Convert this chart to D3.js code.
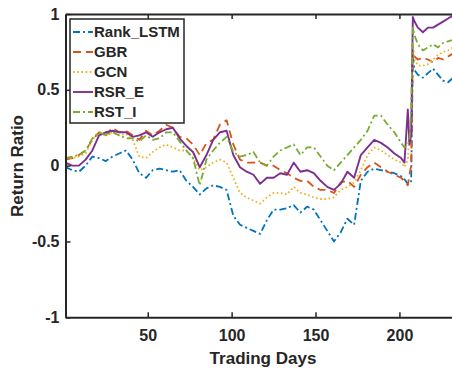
<!DOCTYPE html>
<html>
<head>
<meta charset="utf-8">
<script src="https://cdn.jsdelivr.net/npm/d3@7"></script>
<style>
  html, body { margin: 0; padding: 0; background: #fff; }
  svg { display: block; }
  text { font-family: "Liberation Sans", Arial, sans-serif; font-weight: bold; fill: #262626; }
</style>
</head>
<body>
<svg id="chart" width="452" height="368"></svg>
<script>
// ---------------- data ----------------
const days = [1,5,9,13,17,21,25,29,33,37,41,45,49,53,57,61,65,69,73,77,81,85,89,93,97,
  101,105,109,113,117,121,125,129,133,137,141,145,149,153,157,161,165,169,173,177,181,185,189,193,197,201,
  203,205,206,207,208,209,211,214,217,220,223,226,229,232,235];

const rankLSTM = [-0.01,-0.03,-0.04,0.00,0.06,0.05,0.03,0.06,0.08,0.10,0.04,-0.05,-0.08,-0.03,-0.02,-0.03,-0.04,-0.03,-0.10,-0.14,-0.19,-0.15,-0.13,-0.14,-0.16,
  -0.33,-0.39,-0.41,-0.43,-0.45,-0.36,-0.29,-0.29,-0.28,-0.26,-0.31,-0.27,-0.29,-0.36,-0.43,-0.50,-0.44,-0.35,-0.39,-0.10,-0.04,-0.02,-0.03,-0.04,-0.05,-0.07,
  -0.09,-0.12,-0.12,-0.10,0.72,0.63,0.60,0.58,0.61,0.64,0.60,0.56,0.55,0.58,0.58];

const gbr = [0.04,0.05,0.07,0.10,0.17,0.22,0.20,0.25,0.22,0.23,0.20,0.17,0.23,0.20,0.23,0.27,0.25,0.19,0.18,0.14,0.07,0.15,0.17,0.27,0.30,
  0.14,0.04,0.02,0.02,0.02,0.00,0.00,-0.03,-0.05,-0.08,-0.10,-0.10,-0.14,-0.16,-0.16,-0.18,-0.11,-0.10,-0.14,-0.06,-0.01,0.02,-0.01,-0.04,-0.06,-0.08,
  -0.10,-0.13,-0.06,0.00,0.76,0.72,0.70,0.71,0.70,0.68,0.71,0.70,0.72,0.74,0.74];

const gcn = [0.05,0.05,0.06,0.08,0.17,0.22,0.20,0.22,0.20,0.21,0.17,0.06,0.05,0.09,0.12,0.14,0.12,0.10,0.10,0.05,-0.03,-0.01,0.02,0.04,0.02,
  -0.08,-0.18,-0.21,-0.23,-0.25,-0.21,-0.18,-0.18,-0.19,-0.14,-0.18,-0.19,-0.21,-0.22,-0.22,-0.21,-0.16,-0.14,-0.11,-0.03,0.07,0.12,0.10,0.07,0.04,0.02,
  -0.01,0.04,0.23,0.20,0.80,0.70,0.66,0.66,0.67,0.70,0.73,0.75,0.76,0.78,0.78];

const rsrE = [0.02,0.00,0.00,0.04,0.10,0.20,0.22,0.23,0.22,0.22,0.19,0.20,0.22,0.19,0.22,0.24,0.25,0.18,0.13,0.09,-0.01,0.07,0.17,0.22,0.23,
  0.07,-0.01,-0.04,-0.06,-0.12,-0.08,-0.08,-0.05,-0.06,0.02,-0.04,-0.03,-0.05,-0.10,-0.14,-0.16,-0.12,-0.04,-0.08,0.07,0.12,0.17,0.15,0.12,0.08,0.05,
  0.02,0.37,0.14,0.20,0.98,0.95,0.91,0.88,0.91,0.91,0.93,0.95,0.97,0.99,0.99];

const rstI = [0.05,0.06,0.07,0.10,0.18,0.22,0.20,0.22,0.20,0.18,0.18,0.16,0.20,0.17,0.18,0.22,0.22,0.16,0.10,0.05,-0.13,0.04,0.10,0.15,0.19,
  0.09,0.06,0.07,0.09,0.02,0.00,0.06,0.10,0.12,0.14,0.07,0.12,0.12,0.06,0.00,-0.03,0.02,0.07,0.12,0.17,0.23,0.33,0.33,0.27,0.22,0.15,
  0.12,0.14,0.17,0.37,0.91,0.86,0.80,0.76,0.78,0.80,0.78,0.81,0.82,0.83,0.83];

const seriesNames = ["Rank_LSTM", "GBR", "GCN", "RSR_E", "RST_I"];
const seriesValues = [rankLSTM, gbr, gcn, rsrE, rstI];
const xTicks = [50, 100, 150, 200];
const yTicks = [-1, -0.5, 0, 0.5, 1];
const xDomain = [1, 240];
const yDomain = [-1, 1];

// ---------------- styles ----------------
const colors = ["#0072BD", "#D95319", "#EDB120", "#7E2F8E", "#77AC30"];
const dashes = ["7,3,2,3", "8,5", "1.6,2.6", null, "7,3,2,3"];
const widths = [1.8, 1.8, 1.8, 1.9, 1.8];

const svg = d3.select("#chart");
const L = 65.5, T = 14, B = 317.3;
const R = L + 239 * 1.678;   // right edge lies beyond the visible image

const x = d3.scaleLinear().domain(xDomain).range([L, R]);
const y = d3.scaleLinear().domain(yDomain).range([B, T]);

svg.append("defs").append("clipPath").attr("id", "clip")
  .append("rect").attr("x", L).attr("y", T).attr("width", R - L).attr("height", B - T);

// lines
const line = d3.line().x((d, i) => x(days[i])).y(d => y(d));
const g = svg.append("g").attr("clip-path", "url(#clip)");
seriesValues.forEach((vals, k) => {
  g.append("path")
    .datum(vals)
    .attr("d", line)
    .attr("fill", "none")
    .attr("stroke", colors[k])
    .attr("stroke-width", widths[k])
    .attr("stroke-dasharray", dashes[k])
    .attr("stroke-linejoin", "round");
});

// axes (MATLAB-style box with inward ticks)
const axisColor = "#262626";
const xAxis = svg.append("g").attr("transform", `translate(0,${B})`)
  .call(d3.axisBottom(x).tickValues(xTicks).tickSizeInner(-5).tickSizeOuter(0).tickPadding(12).tickFormat(d => String(d)));
const xAxisTop = svg.append("g").attr("transform", `translate(0,${T})`)
  .call(d3.axisTop(x).tickValues(xTicks).tickSizeInner(-5).tickSizeOuter(0).tickFormat(""));
const yAxis = svg.append("g").attr("transform", `translate(${L},0)`)
  .call(d3.axisLeft(y).tickValues(yTicks).tickSizeInner(-5).tickSizeOuter(0).tickPadding(6).tickFormat(d => String(d)));

[xAxis, xAxisTop, yAxis].forEach(a => {
  a.select(".domain").attr("stroke", axisColor).attr("stroke-width", 2);
  a.selectAll(".tick line").attr("stroke", axisColor).attr("stroke-width", 1.5);
  a.selectAll(".tick text").attr("fill", axisColor)
    .style("font-family", '"Liberation Sans", Arial, sans-serif')
    .style("font-weight", "bold").style("font-size", "16px");
});

// axis labels
svg.append("text").attr("x", 263).attr("y", 364).attr("text-anchor", "middle")
  .style("font-size", "17px").text("Trading Days");
svg.append("text").attr("transform", "translate(23,166) rotate(-90)").attr("text-anchor", "middle")
  .style("font-size", "17px").text("Return Ratio");

// legend
const lg = svg.append("g");
lg.append("rect").attr("x", 70).attr("y", 19).attr("width", 114).attr("height", 104)
  .attr("fill", "#fff").attr("stroke", axisColor).attr("stroke-width", 1.5);
seriesNames.forEach((name, k) => {
  const cy = 32 + k * 20;
  lg.append("line").attr("x1", 73).attr("x2", 93).attr("y1", cy).attr("y2", cy)
    .attr("stroke", colors[k]).attr("stroke-width", widths[k]).attr("stroke-dasharray", dashes[k]);
  lg.append("text").attr("x", 94).attr("y", cy).attr("dy", "0.36em")
    .style("font-size", "15px").text(name);
});
</script>
</body>
</html>
